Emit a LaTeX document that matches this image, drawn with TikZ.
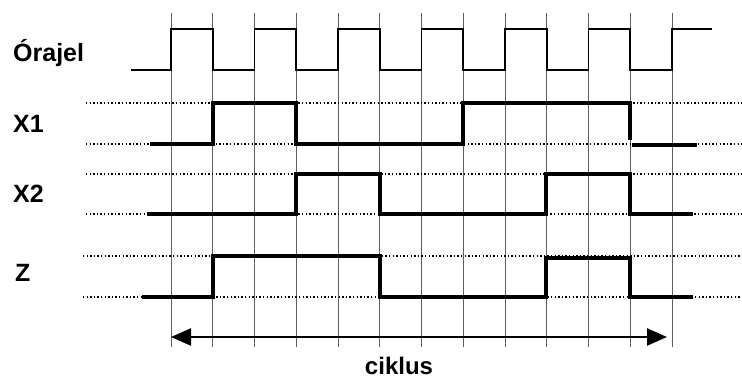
\documentclass[tikz,border=0pt]{standalone}
\usepackage{fontspec}
\setmainfont{Liberation Sans}
\usepackage{tikz}
\usetikzlibrary{arrows.meta}
\usepackage{xcolor}
\definecolor{tdgrid}{RGB}{95,95,95}
\tikzstyle{gridline} = [line width=0.9pt, color=tdgrid]
\tikzstyle{levelline} = [line width=1.3pt, black, dash pattern=on 1.4pt off 2.2pt]
\tikzstyle{clock} = [line width=1.8pt, black]
\tikzstyle{signal} = [line width=4pt, black]
\tikzstyle{siglabel} = [font=\fontsize{25}{30}\selectfont\bfseries, anchor=base west, inner sep=0pt]
\tikzstyle{cyclearrow} = [line width=2.4pt, {Triangle[length=20pt,width=17pt]}-{Triangle[length=20pt,width=17pt]}]

\begin{document}
\begin{tikzpicture}[x=1pt, y=-1pt]
\useasboundingbox (0,0) rectangle (742,379);

% Grid
\foreach \i in {0,...,12}
  \draw[gridline] ({171+41.75*\i},13) -- ({171+41.75*\i},347);

% Levels
\foreach \y in {103,144,174,214}
  \draw[levelline] (86,\y) -- (742,\y);
\foreach \y in {256,297}
  \draw[levelline] (83,\y) -- (742,\y);

% Clock
\draw[clock] (131,70)
  foreach \i in {0,2,...,10} {
    -- ({171+41.75*\i},70) -- ({171+41.75*\i},29)
    -- ({171+41.75*(\i+1)},29) -- ({171+41.75*(\i+1)},70)
  } -- (672,70) -- (672,29) -- (712,29);

% Signals
\draw[signal] (150,144) -- (213,144) -- (213,103) -- (296,103) -- (296,144)
  -- (463,144) -- (463,103) -- (630,103) -- (630,140);
\draw[signal] (632,145) -- (697,145);
\draw[signal] (147,214) -- (296,214) -- (296,174) -- (380,174) -- (380,214)
  -- (546,214) -- (546,174) -- (630,174) -- (630,214) -- (693,214);
\draw[signal] (142,297) -- (213,297) -- (213,256) -- (380,256) -- (380,297)
  -- (546,297) -- (546,258) -- (630,258) -- (630,297) -- (693,297);

% Labels
\node[siglabel] (clk) at (13,62) {Órajel};
\node[siglabel] (x1) at (13,133) {X1};
\node[siglabel] (x2) at (13,203) {X2};
\node[siglabel] (z) at (15,281.5) {Z};

% Cycle
\coordinate (cstart) at (171,337);
\coordinate (cend) at (667,337);
\draw[cyclearrow] (cstart) -- (cend);
\node[siglabel, anchor=base, font=\fontsize{24}{29}\selectfont\bfseries] (cyc) at (399,375) {ciklus};
\end{tikzpicture}
\end{document}
